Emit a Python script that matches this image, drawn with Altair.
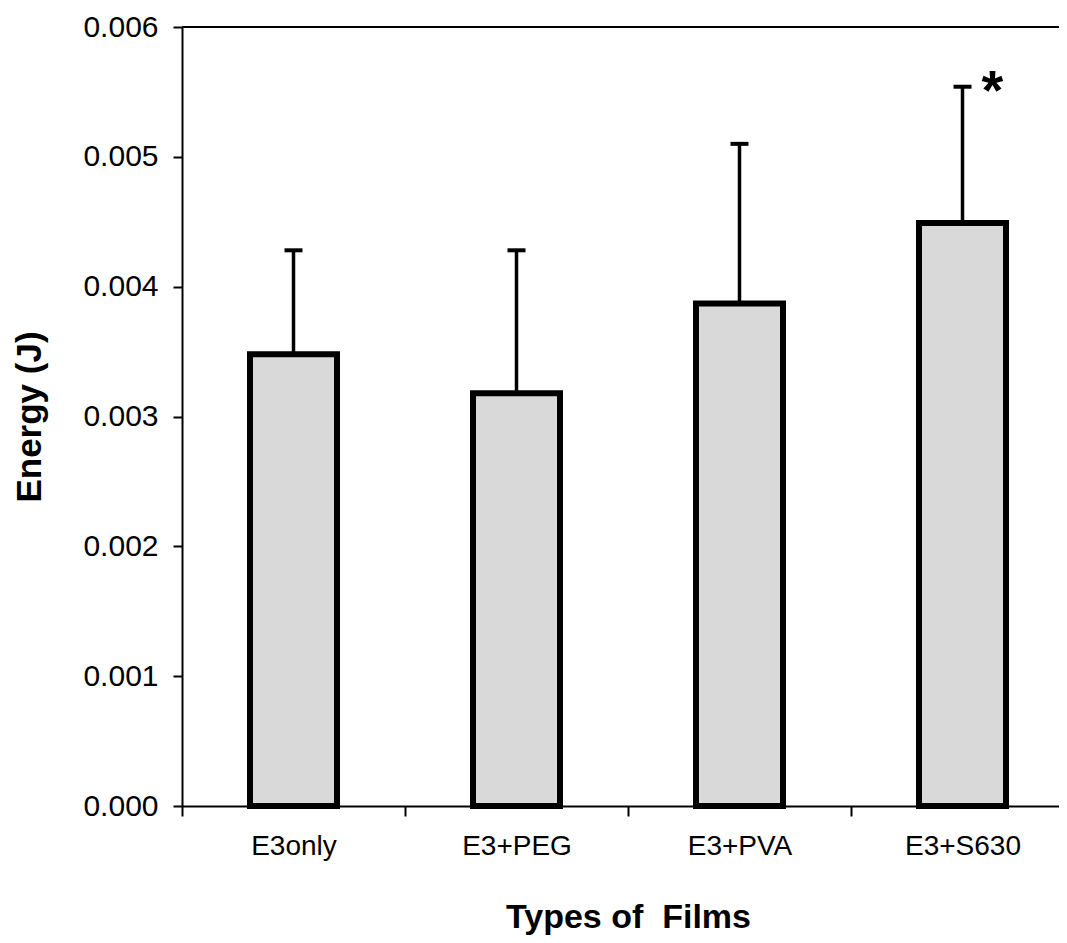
import altair as alt
import pandas as pd

categories = ["E3only", "E3+PEG", "E3+PVA", "E3+S630"]
energy = [0.00348, 0.00318, 0.00387, 0.00449]
upper = [0.00428, 0.00428, 0.00510, 0.00554]
marks = ["", "", "", "*"]
y_ticks = [0.000, 0.001, 0.002, 0.003, 0.004, 0.005, 0.006]

df = pd.DataFrame({"cat": categories, "energy": energy, "upper": upper, "mark": marks})

W, H = 877, 779
BAND_SPAN = 892
FONT = "Liberation Sans"

x_enc = alt.X("cat:N", sort=categories,
              scale=alt.Scale(paddingInner=0, paddingOuter=0, range=[0, BAND_SPAN]),
              axis=alt.Axis(title="Types of\u00a0\u00a0Films", labelAngle=0, tickBand="extent",
                            labelAlign="center"))
y_scale = alt.Scale(domain=[0, 0.006], nice=False)
y_enc = alt.Y("energy:Q", scale=y_scale,
              axis=alt.Axis(title="Energy (J)", values=y_ticks, format=".3f", grid=False))

base = alt.Chart(df)

bars = base.mark_bar(size=87, fill="#d9d9d9", stroke="black", strokeWidth=6).encode(
    x=x_enc, y=y_enc)
err = base.mark_rule(color="black", strokeWidth=3.5).encode(
    x=alt.X("cat:N", sort=categories), y=alt.Y("energy:Q"), y2="upper:Q")
cap = base.mark_tick(color="black", thickness=4, size=18, orient="horizontal", opacity=1).encode(
    x=alt.X("cat:N", sort=categories), y=alt.Y("upper:Q"))
star = base.mark_text(fontSize=56, fontWeight="bold", font=FONT, dx=30, dy=22,
                      baseline="alphabetic", color="black").encode(
    x=alt.X("cat:N", sort=categories), y=alt.Y("upper:Q"), text="mark:N")
top = base.mark_rule(color="black", strokeWidth=2).encode(
    x=alt.value(0), x2=alt.value(W), y=alt.value(0))

chart = alt.layer(err, bars, cap, star, top).properties(
    width=W, height=H,
    autosize=alt.AutoSizeParams(type="none"),
    padding={"left": 174, "top": 19, "right": 0, "bottom": 137},
).configure_view(stroke=None).configure(background="white").configure_axis(
    labelFont=FONT, labelColor="black", titleFont=FONT, titleColor="black",
    titleFontWeight="bold", domainColor="black", domainWidth=2, tickColor="black",
    tickWidth=2, grid=False
).configure_axisX(
    labelFontSize=28, labelPadding=30, titleFontSize=34, titlePadding=40, tickSize=10
).configure_axisY(
    labelFontSize=30, labelPadding=15, titleFontSize=35, titlePadding=35, tickSize=9
)

chart.save("out.html", embed_options={"renderer": "svg", "actions": False})
